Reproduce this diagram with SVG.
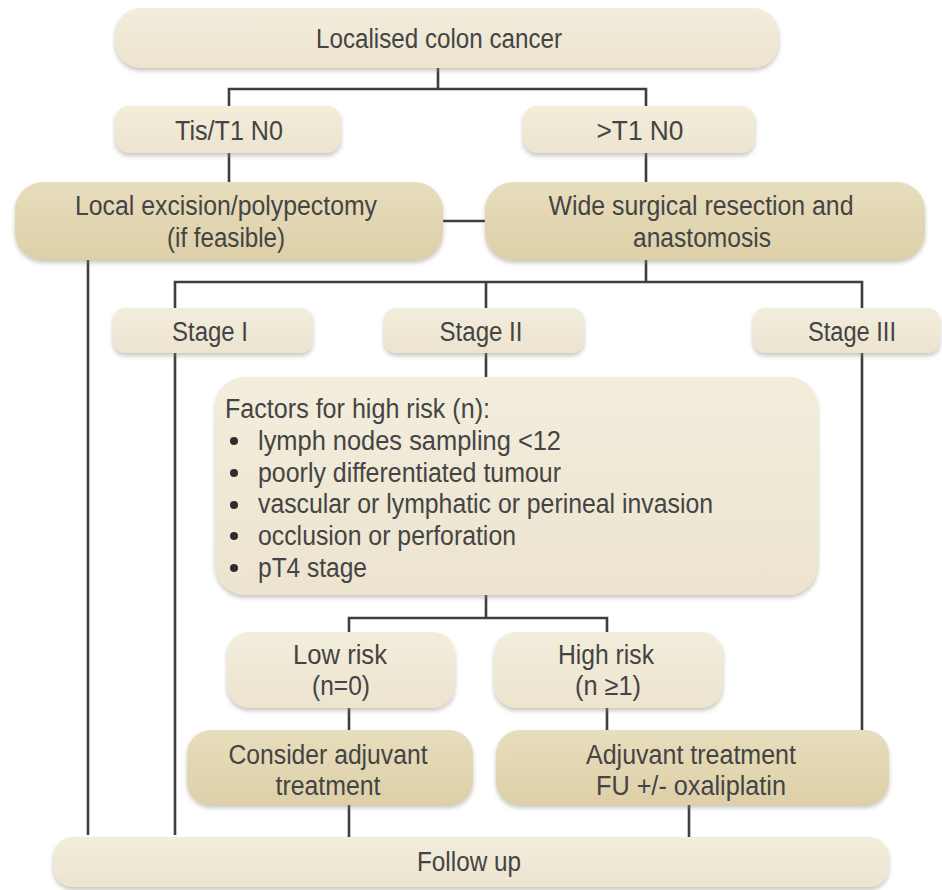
<svg xmlns="http://www.w3.org/2000/svg" width="942" height="890" viewBox="0 0 942 890">
  <defs>
    <linearGradient id="gLight" x1="0" y1="0" x2="0" y2="1">
      <stop offset="0" stop-color="#f3eddc"/>
      <stop offset="1" stop-color="#ece4cf"/>
    </linearGradient>
    <linearGradient id="gDark" x1="0" y1="0" x2="0" y2="1">
      <stop offset="0" stop-color="#e8ddbd"/>
      <stop offset="1" stop-color="#ddd0a8"/>
    </linearGradient>
    <filter id="shadow" x="-5%" y="-10%" width="110%" height="130%">
      <feDropShadow dx="0" dy="3" stdDeviation="2" flood-color="#8a8578" flood-opacity="0.45"/>
    </filter>
  </defs>
  <style>
    .light { fill: url(#gLight); filter: url(#shadow); }
    .dark { fill: url(#gDark); filter: url(#shadow); }
    .lbl { font-family: "Liberation Sans", Arial, sans-serif; font-size: 27px; fill: #444444; text-anchor: middle; }
    .lft { font-family: "Liberation Sans", Arial, sans-serif; font-size: 27px; fill: #444444; }
    .conn { fill: none; stroke: #3e3e3e; stroke-width: 2.6; }
  </style>

  <rect width="942" height="890" fill="#ffffff"/>

  <!-- connectors -->
  <g id="connectors" class="conn">
    <path d="M438 68 V89"/>
    <path d="M229 106 V89 H646 V106"/>
    <path d="M229 153 V182"/>
    <path d="M646 153 V182"/>
    <path d="M443 221 H485"/>
    <path d="M88 260 V835"/>
    <path d="M646 260 V282"/>
    <path d="M175 308 V282 H862 V308"/>
    <path d="M486 282 V308"/>
    <path d="M175 353 V835"/>
    <path d="M862 353 V730"/>
    <path d="M486 353 V377"/>
    <path d="M486 595 V618"/>
    <path d="M349 632 V618 H607 V632"/>
    <path d="M349 708 V730"/>
    <path d="M607 708 V730"/>
    <path d="M349 805 V837"/>
    <path d="M689 805 V837"/>
  </g>

  <g id="localised">
    <rect class="light" x="115" y="8" width="664" height="60" rx="26"/>
    <text class="lbl" x="439" y="48" textLength="246" lengthAdjust="spacingAndGlyphs">Localised colon cancer</text>
  </g>

  <g id="tis-t1">
    <rect class="light" x="115" y="106" width="226" height="47" rx="14"/>
    <text class="lbl" x="229" y="140" textLength="108" lengthAdjust="spacingAndGlyphs">Tis/T1 N0</text>
  </g>

  <g id="gt-t1">
    <rect class="light" x="523" y="106" width="232" height="47" rx="14"/>
    <text class="lbl" x="640" y="140" textLength="87" lengthAdjust="spacingAndGlyphs">&gt;T1 N0</text>
  </g>

  <g id="local-excision">
    <rect class="dark" x="15" y="182" width="428" height="78" rx="28"/>
    <text class="lbl" x="226" y="215" textLength="302" lengthAdjust="spacingAndGlyphs">Local excision/polypectomy</text>
    <text class="lbl" x="226" y="247" textLength="118" lengthAdjust="spacingAndGlyphs">(if feasible)</text>
  </g>

  <g id="wide-resection">
    <rect class="dark" x="485" y="182" width="440" height="78" rx="28"/>
    <text class="lbl" x="701" y="215" textLength="305" lengthAdjust="spacingAndGlyphs">Wide surgical resection and</text>
    <text class="lbl" x="702" y="247" textLength="138" lengthAdjust="spacingAndGlyphs">anastomosis</text>
  </g>

  <g id="stage-1">
    <rect class="light" x="113" y="308" width="200" height="45" rx="12"/>
    <text class="lbl" x="210" y="341" textLength="76" lengthAdjust="spacingAndGlyphs">Stage I</text>
  </g>

  <g id="stage-2">
    <rect class="light" x="384" y="308" width="200" height="45" rx="12"/>
    <text class="lbl" x="481" y="341" textLength="83" lengthAdjust="spacingAndGlyphs">Stage II</text>
  </g>

  <g id="stage-3">
    <rect class="light" x="753" y="308" width="187" height="45" rx="12"/>
    <text class="lbl" x="852" y="341" textLength="88" lengthAdjust="spacingAndGlyphs">Stage III</text>
  </g>

  <g id="risk-factors">
    <rect class="light" x="215" y="377" width="603" height="218" rx="30"/>
    <text class="lft" x="225" y="418" textLength="265" lengthAdjust="spacingAndGlyphs">Factors for high risk (n):</text>
    <g fill="#2e2e2e">
      <circle cx="234" cy="441" r="4"/>
      <circle cx="234" cy="473" r="4"/>
      <circle cx="234" cy="505" r="4"/>
      <circle cx="234" cy="536" r="4"/>
      <circle cx="234" cy="568" r="4"/>
    </g>
    <text class="lft" x="258" y="450" textLength="303" lengthAdjust="spacingAndGlyphs">lymph nodes sampling &lt;12</text>
    <text class="lft" x="258" y="482" textLength="303" lengthAdjust="spacingAndGlyphs">poorly differentiated tumour</text>
    <text class="lft" x="258" y="513" textLength="455" lengthAdjust="spacingAndGlyphs">vascular or lymphatic or perineal invasion</text>
    <text class="lft" x="258" y="545" textLength="258" lengthAdjust="spacingAndGlyphs">occlusion or perforation</text>
    <text class="lft" x="258" y="577" textLength="109" lengthAdjust="spacingAndGlyphs">pT4 stage</text>
  </g>

  <g id="low-risk">
    <rect class="light" x="227" y="632" width="228" height="76" rx="22"/>
    <text class="lbl" x="340" y="664" textLength="94" lengthAdjust="spacingAndGlyphs">Low risk</text>
    <text class="lbl" x="341" y="695" textLength="58" lengthAdjust="spacingAndGlyphs">(n=0)</text>
  </g>

  <g id="high-risk">
    <rect class="light" x="494" y="632" width="229" height="76" rx="22"/>
    <text class="lbl" x="606" y="664" textLength="96" lengthAdjust="spacingAndGlyphs">High risk</text>
    <text class="lbl" x="608" y="695" textLength="66" lengthAdjust="spacingAndGlyphs">(n ≥1)</text>
  </g>

  <g id="consider-adjuvant">
    <rect class="dark" x="187" y="730" width="286" height="75" rx="24"/>
    <text class="lbl" x="328" y="764" textLength="199" lengthAdjust="spacingAndGlyphs">Consider adjuvant</text>
    <text class="lbl" x="328" y="795" textLength="105" lengthAdjust="spacingAndGlyphs">treatment</text>
  </g>

  <g id="adjuvant">
    <rect class="dark" x="496" y="730" width="393" height="75" rx="24"/>
    <text class="lbl" x="691" y="764" textLength="210" lengthAdjust="spacingAndGlyphs">Adjuvant treatment</text>
    <text class="lbl" x="691" y="795" textLength="190" lengthAdjust="spacingAndGlyphs">FU +/- oxaliplatin</text>
  </g>

  <g id="follow-up">
    <rect class="light" x="53" y="837" width="836" height="50" rx="20"/>
    <text class="lbl" x="469" y="871" textLength="104" lengthAdjust="spacingAndGlyphs">Follow up</text>
  </g>
</svg>
